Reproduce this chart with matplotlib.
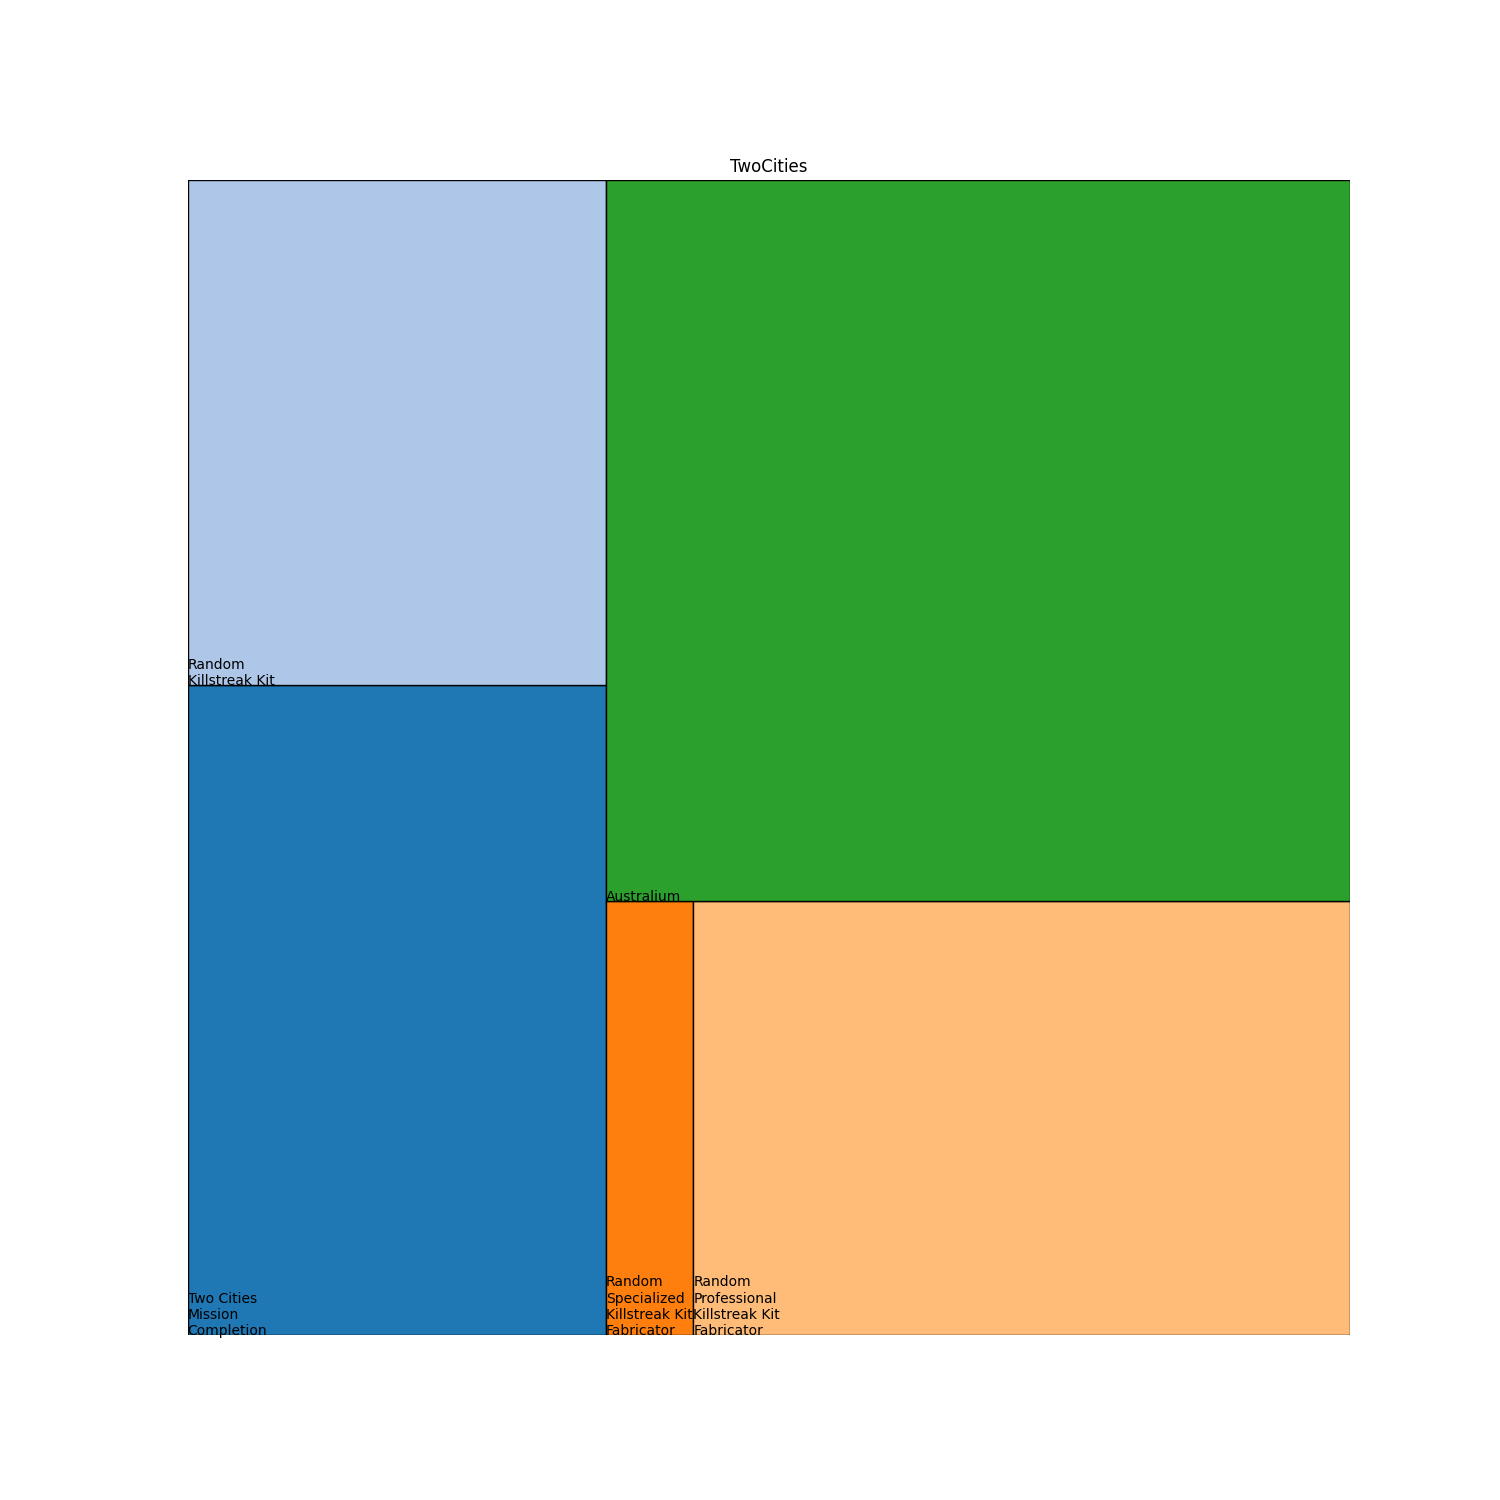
import matplotlib
matplotlib.use("Agg")
import matplotlib.pyplot as plt

title = "TwoCities"
labels = ["Two Cities\nMission\nCompletion", "Random\nKillstreak Kit",
          "Random\nSpecialized\nKillstreak Kit\nFabricator",
          "Random\nProfessional\nKillstreak Kit\nFabricator", "Australium"]
values = [20.26, 15.74, 2.82, 21.23, 39.95]
colors = ["#1f77b4", "#aec7e8", "#ff7f0e", "#ffbb78", "#2ca02c"]

NX, NY = 100.0, 100.0


def normalize(sizes, dx, dy):
    tot = sum(sizes)
    return [s * dx * dy / tot for s in sizes]


def layoutrow(sizes, x, y, dx, dy):
    w = sum(sizes) / dy
    out = []
    for s in sizes:
        out.append((x, y, w, s / w))
        y += s / w
    return out


def layoutcol(sizes, x, y, dx, dy):
    h = sum(sizes) / dx
    out = []
    for s in sizes:
        out.append((x, y, s / h, h))
        x += s / h
    return out


def layout(sizes, x, y, dx, dy):
    return layoutrow(sizes, x, y, dx, dy) if dx >= dy else layoutcol(sizes, x, y, dx, dy)


def leftover(sizes, x, y, dx, dy):
    if dx >= dy:
        w = sum(sizes) / dy
        return x + w, y, dx - w, dy
    h = sum(sizes) / dx
    return x, y + h, dx, dy - h


def worst(sizes, x, y, dx, dy):
    return max(max(r[2] / r[3], r[3] / r[2]) for r in layout(sizes, x, y, dx, dy))


def squarify(sizes, x, y, dx, dy):
    if not sizes:
        return []
    if len(sizes) == 1:
        return layout(sizes, x, y, dx, dy)
    i = 1
    while i < len(sizes) and worst(sizes[:i], x, y, dx, dy) >= worst(sizes[:i + 1], x, y, dx, dy):
        i += 1
    cur, rem = sizes[:i], sizes[i:]
    lx, ly, ldx, ldy = leftover(cur, x, y, dx, dy)
    return layout(cur, x, y, dx, dy) + squarify(rem, lx, ly, ldx, ldy)


rects = squarify(normalize(values, NX, NY), 0.0, 0.0, NX, NY)

fig, ax = plt.subplots(figsize=(15, 15), dpi=100)
xs = [r[0] for r in rects]
ys = [r[1] for r in rects]
ws = [r[2] for r in rects]
hs = [r[3] for r in rects]
ax.bar(xs, hs, width=ws, bottom=ys, color=colors, align="edge",
       edgecolor="black", linewidth=1)
for (x, y, w, h), lab in zip(rects, labels):
    ax.text(x, y, lab, fontsize=10)
ax.set_xlim(0, NX)
ax.set_ylim(0, NY)
ax.set_title(title)
ax.axis("off")
fig.savefig("out.png", dpi=100)
